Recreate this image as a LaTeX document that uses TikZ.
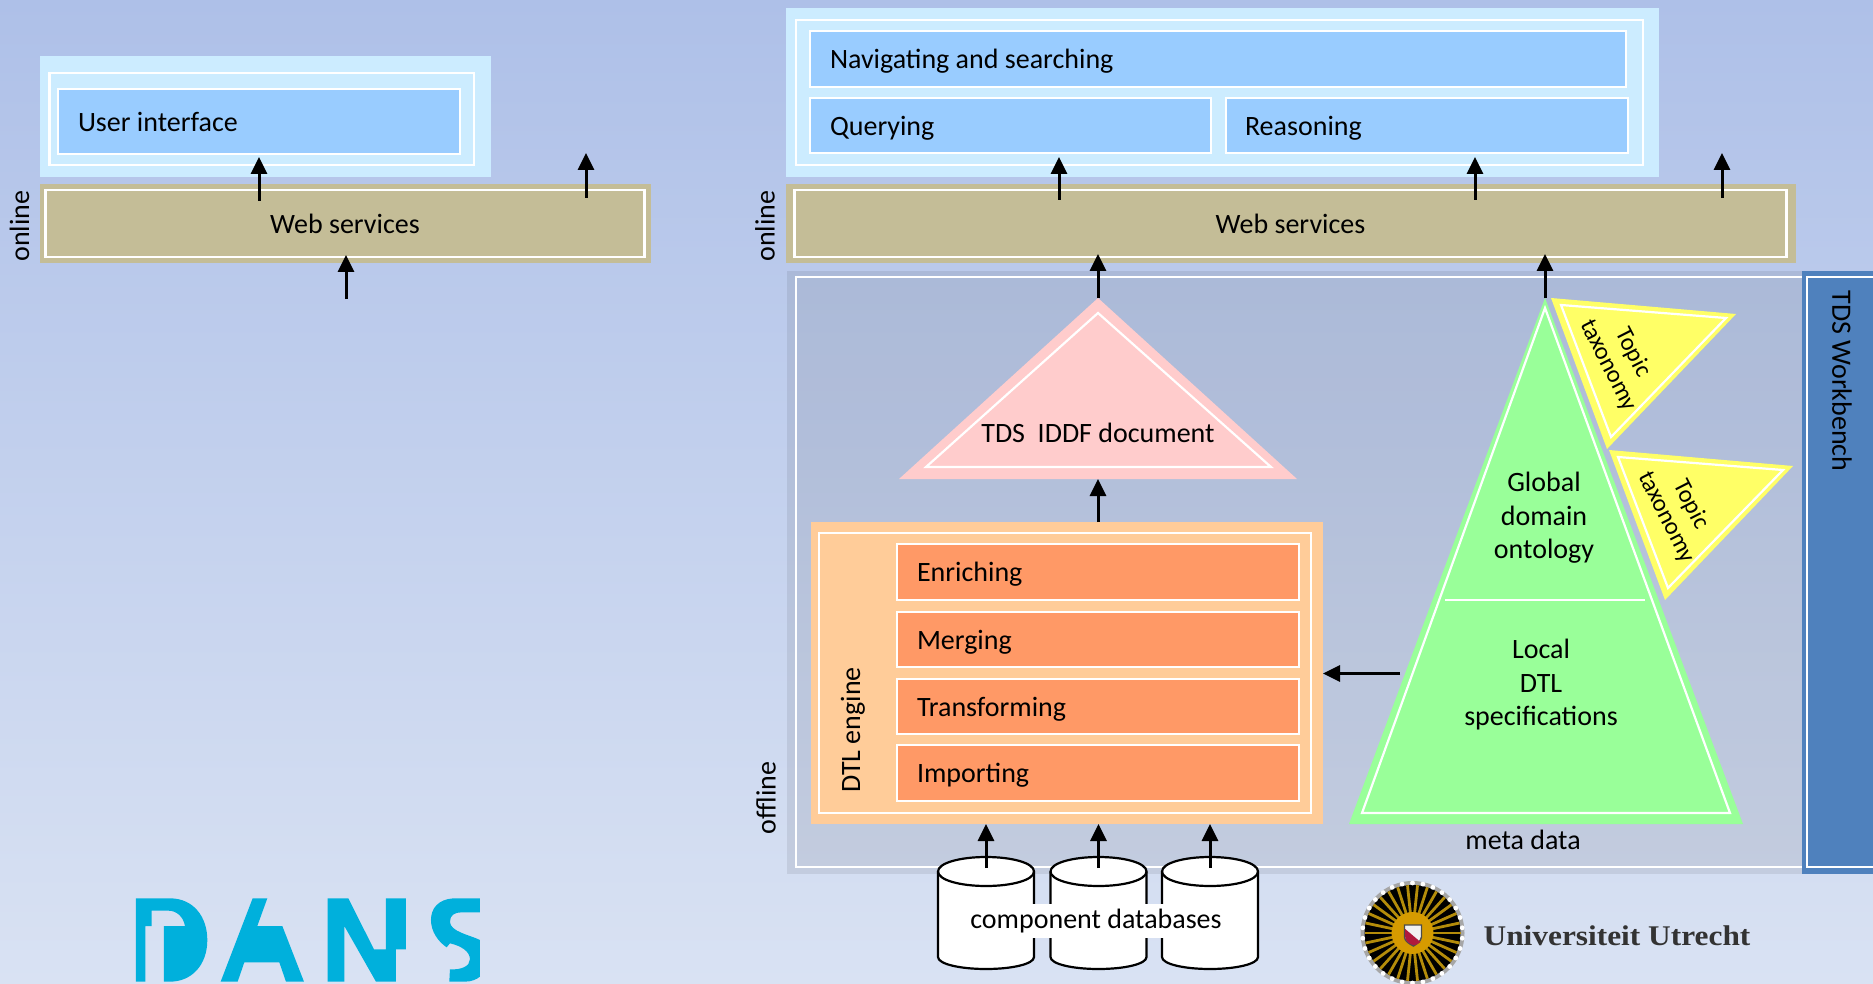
\documentclass[tikz,border=0pt]{standalone}
\usepackage{fontspec}
\setmainfont{Carlito}
\newfontfamily\uufont{Liberation Serif}[BoldFont={Liberation Serif Bold},FakeStretch=1.1]
\usetikzlibrary{arrows.meta}
\definecolor{lightblue}{HTML}{CCECFF}
\definecolor{midblue}{HTML}{99CCFF}
\definecolor{tan}{HTML}{C4BD97}
\definecolor{wbblue}{HTML}{4F81BD}
\definecolor{peach}{HTML}{FFCC99}
\definecolor{dorange}{HTML}{FF9966}
\definecolor{pinkish}{HTML}{FFCCCC}
\definecolor{greenish}{HTML}{99FF99}
\definecolor{yel}{HTML}{FFFF66}
\definecolor{dans}{HTML}{00B0DC}
\definecolor{bgtop}{HTML}{AEC0E8}
\definecolor{bgbot}{HTML}{D9E2F3}
\definecolor{sunray}{HTML}{B48C0A}
\definecolor{sungold}{HTML}{D69B00}
\definecolor{shieldred}{HTML}{AF193C}
\newcommand\pxbox[7]{\node[#6,minimum width={(#4-#2)*1pt},minimum height={(#5-#3)*1pt},text width={(#4-#2)*1pt},align=flush center] (#1) at ({(#2+#4)/2},{(#3+#5)/2}) {#7};}
\newcommand\pxboxL[8]{\node[#6,minimum width={(#4-#2)*1pt},minimum height={(#5-#3)*1pt},inner xsep=#7pt,text width={(#4-#2-2*#7)*1pt},text height=25.5pt,text depth=6pt,align=flush left] (#1) at ({(#2+#4)/2},{(#3+#5)/2}) {#8};}
\tikzset{
  x=1pt,y=-1pt,
  every node/.style={inner sep=0pt,outer sep=0pt,font=\fontsize{28}{34}\selectfont,text=black},
  flat/.style={fill=#1,draw=none},
  wline/.style={draw=white,line width=2.2pt},
  wfill/.style={fill=#1,draw=white,line width=2.2pt},
  arr/.style={draw=black,line width=3pt,-{Triangle[length=17pt,width=16pt]},shorten >=0pt},
  vlab/.style={rotate=90,anchor=center},
  tax/.style={font=\fontsize{24.5}{27.5}\selectfont,align=center,rotate=-63},
  cyl/.style={fill=white,draw=black,line width=2.2pt,line join=round},
}
\newcommand\dbcyl[1]{%
  \draw[cyl] (#1-48,871.5) -- (#1-48,957) .. controls (#1-48,964) and (#1-26,969) .. (#1,969) .. controls (#1+26,969) and (#1+48,964) .. (#1+48,957) -- (#1+48,871.5)
     .. controls (#1+48,863) and (#1+26,857) .. (#1,857) .. controls (#1-26,857) and (#1-48,863) .. (#1-48,871.5) -- cycle;
  \draw[cyl,fill=none] (#1-48,871.5) .. controls (#1-48,880) and (#1-26,886) .. (#1,886) .. controls (#1+26,886) and (#1+48,880) .. (#1+48,871.5);
}
\begin{document}
\begin{tikzpicture}
\useasboundingbox (0,0) rectangle (1873,984);
\shade[top color=bgtop,bottom color=bgbot] (0,0) rectangle (1873,984);

% Left online block
\pxbox{louter}{40}{56}{491}{177}{flat=lightblue}{}
\pxbox{linner}{49.5}{73}{474}{165}{wline}{}
\pxboxL{ui}{58}{89}{460}{154}{wfill=midblue}{20}{User interface}
\pxbox{lwebo}{40}{184}{651}{263}{flat=tan}{}
\pxbox{lweb}{45.5}{190}{644.5}{257}{wfill=tan}{Web services}
\node[vlab] (lonline) at (19.5,226) {online};
\coordinate (la1) at (259,201); \coordinate (la1e) at (259,157);
\coordinate (la2) at (586,198); \coordinate (la2e) at (586,153);
\coordinate (la3) at (346,299); \coordinate (la3e) at (346,255);
\draw[arr] (la1) -- (la1e);
\draw[arr] (la2) -- (la2e);
\draw[arr] (la3) -- (la3e);

% Right online block
\pxbox{router}{786}{8}{1659}{177}{flat=lightblue}{}
\pxbox{rinner}{796}{20}{1643}{165}{wline}{}
\pxboxL{nav}{810}{31}{1626}{87}{wfill=midblue}{20}{Navigating and searching}
\pxboxL{qry}{810}{98}{1211}{153}{wfill=midblue}{20}{Querying}
\pxboxL{rsn}{1226}{98}{1628}{153}{wfill=midblue}{19}{Reasoning}
\pxbox{rwebo}{786}{184}{1796}{263}{flat=tan}{}
\pxbox{rweb}{794.5}{190}{1786.5}{257}{wfill=tan}{Web services}
\node[vlab] (ronline) at (765,226) {online};

% Offline region
\fill[black,opacity=.08] (787,271) rectangle (1802,874);
\path[wline] (1802,277) -- (796,277) -- (796,867) -- (1802,867);
\pxbox{wbo}{1802}{271}{1873}{874}{flat=wbblue}{}
\path[wline] (1873,277) -- (1807,277) -- (1807,867) -- (1873,867);
\node[rotate=-90] (wb) at (1842,381) {TDS Workbench};
\node[vlab] (offline) at (766,798) {offline};

% IDDF triangle
\coordinate (pa) at (1098,298);
\fill[pinkish] (pa) -- (1297,479) -- (899,479) -- cycle;
\draw[wline,line join=miter] (1098,313) -- (1271,467) -- (926,467) -- cycle;
\node (iddf) at (1098,433) {TDS\ \ IDDF document};
\coordinate (pb) at (1098,479);

% DTL engine
\pxbox{dtlo}{811}{522}{1323}{824}{flat=peach}{}
\pxbox{dtli}{818.6}{533}{1311}{813}{wline}{}
\node[vlab] (dtl) at (853,730) {DTL engine};
\pxboxL{enr}{897}{544}{1299}{600}{wfill=dorange}{20}{Enriching}
\pxboxL{mrg}{897}{612}{1299}{667}{wfill=dorange}{20}{Merging}
\pxboxL{trf}{897}{679}{1299}{734}{wfill=dorange}{20}{Transforming}
\pxboxL{imp}{897}{745}{1299}{801}{wfill=dorange}{20}{Importing}

% Green triangle
\coordinate (ga) at (1545,298);
\fill[greenish] (ga) -- (1743,824) -- (1349,824) -- cycle;
\draw[wline,line join=miter] (1545,308) -- (1730,813) -- (1362,813) -- cycle;
\coordinate (gl) at (1445,600); \coordinate (gr) at (1645,600);
\draw[wline,line width=1.6pt] (gl) -- (gr);
\node[align=center] (gdo) at (1544,518) {Global\\[-0.5pt]domain\\[-0.5pt]ontology};
\node[align=center] (ldt) at (1541,685) {Local\\[-0.5pt]DTL\\[-0.5pt]specifications};
\node (meta) at (1523,840) {meta data};

% Yellow triangles
\fill[yel] (1551,298) -- (1736,314) -- (1607,449) -- cycle;
\draw[wline,line join=miter] (1561,305) -- (1726,318) -- (1611,437) -- cycle;
\node[tax] (t1) at (1620.5,359) {Topic\\taxonomy};
\fill[yel] (1609,450) -- (1793,466) -- (1665,600) -- cycle;
\draw[wline,line join=miter] (1618,457) -- (1783,470) -- (1668,588) -- cycle;
\node[tax] (t2) at (1678.5,511) {Topic\\taxonomy};

% Databases
\dbcyl{986}\dbcyl{1098.5}\dbcyl{1210}
\node[fill=white,minimum height=34pt,minimum width=226pt] (cdb) at (1096,921) {component databases};

% Arrows of right side
\coordinate (ra1) at (1059,200); \coordinate (ra1e) at (1059,157);
\coordinate (ra2) at (1475,200); \coordinate (ra2e) at (1475,157);
\coordinate (ra3) at (1722,198); \coordinate (ra3e) at (1722,153);
\draw[arr] (ra1) -- (ra1e);
\draw[arr] (ra2) -- (ra2e);
\draw[arr] (ra3) -- (ra3e);
\coordinate (w1) at (1098,254); \coordinate (w2) at (1545,254);
\draw[arr] (pa) -- (w1);
\draw[arr] (ga) -- (w2);
\coordinate (d0) at (1098,522);
\draw[arr] (d0) -- (pb);
\coordinate (o0) at (1400,673.5); \coordinate (o1) at (1323,673.5);
\draw[arr] (o0) -- (o1);
\foreach \n/\x in {a/986,b/1098.5,c/1210}{
  \coordinate (db\n) at (\x,868); \coordinate (dt\n) at (\x,824);
  \draw[arr] (db\n) -- (dt\n);
}

% DANS logo
\begin{scope}[shift={(100,860)},x=0.3333pt,y=-0.3333pt]
\fill[dans] (108,115) -- (210,115) .. controls (280,115) and (322,170) .. (322,240) .. controls (322,315) and (275,365) .. (210,365) -- (192,365) -- (192,198) -- (255,198) .. controls (250,170) and (230,152) .. (205,152) -- (155,152) -- (155,198) -- (136,198) -- (136,365) -- (108,365) -- cycle;
\fill[dans] (458,115) -- (502,115) -- (472,198) -- (547,198) -- (612,365) -- (558,365) -- (538,307) -- (433,307) -- (413,365) -- (362,365) -- cycle;
\fill[dans] (683,115) -- (745,115) -- (822,268) -- (858,268) -- (858,115) -- (918,115) -- (918,268) -- (888,268) -- (888,365) -- (828,365) -- (733,198) -- (733,365) -- (683,365) -- cycle;
\fill[dans] (1140,115) -- (1060,115) .. controls (1015,118) and (993,145) .. (993,180) .. controls (993,215) and (1015,245) .. (1040,262) -- (1050,250) .. controls (1085,258) and (1110,275) .. (1110,298) .. controls (1110,318) and (1085,330) .. (1050,328) -- (1048,365) -- (1095,365) .. controls (1115,365) and (1130,358) .. (1140,350) -- (1140,240) .. controls (1110,225) and (1050,215) .. (1050,185) .. controls (1050,165) and (1065,157) .. (1085,157) -- (1140,157) -- cycle;
\end{scope}

% Utrecht University logo
\fill[black!35] (1412.5,933) circle (52);
\fill[black] (1412.5,933) circle (48);
\foreach \a in {0,12,...,348}{
  \draw[sunray,line width=2.8pt] (1412.5,933) ++(\a:18) -- ++(\a:30);
}
\foreach \a in {6,18,...,354}{
  \fill[white] (1412.5,933) ++(\a:50) circle (2.4);
}
\fill[sungold] (1412.5,933) circle (21);
\begin{scope}[shift={(-0.5,-2)}]
\filldraw[fill=white!90!gray,draw=black!70,line width=1.4pt] (1405,927) -- (1422,927) -- (1422,939) .. controls (1421,944) and (1417,946) .. (1414,948) .. controls (1410,946) and (1405,943) .. (1405,939) -- cycle;
\fill[shieldred] (1405.7,931) -- (1421,944) .. controls (1419,946) and (1416,947) .. (1414,947.3) .. controls (1410,946) and (1405.7,943) .. (1405.7,939) -- cycle;
\end{scope}
\node[font=\uufont\bfseries\fontsize{28.5}{30}\selectfont,text=black!80] (uu) at (1617,936) {Universiteit Utrecht};
\end{tikzpicture}
\end{document}
